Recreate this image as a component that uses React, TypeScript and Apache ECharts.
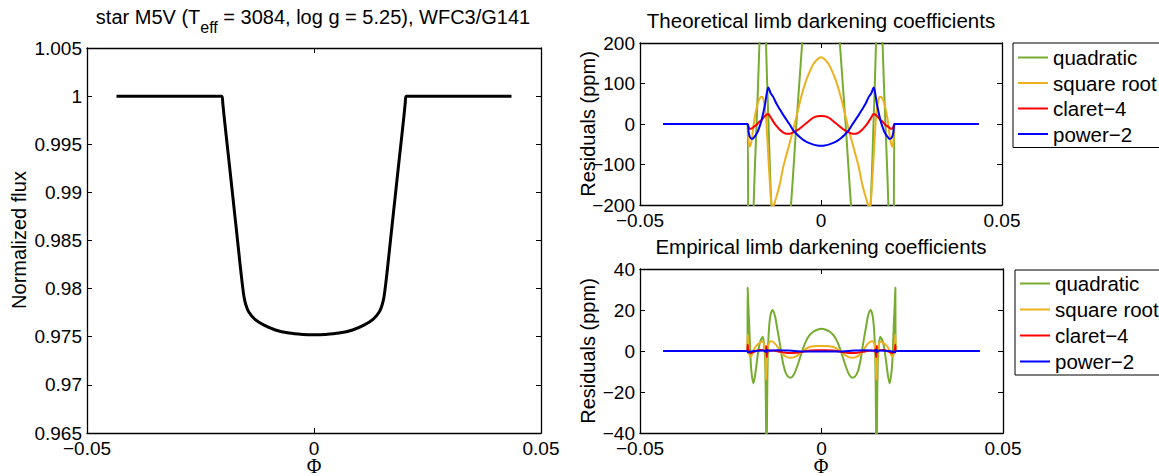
import React, { useEffect, useRef } from "react";
import * as echarts from "echarts";

// ---------- tick labels ----------
const phiTicks = [-0.05, 0, 0.05];
const phiTickLabels = ["\u22120.05", "0", "0.05"];
const fluxTicks = [0.965, 0.97, 0.975, 0.98, 0.985, 0.99, 0.995, 1, 1.005];
const fluxTickLabels = ["0.965", "0.97", "0.975", "0.98", "0.985", "0.99", "0.995", "1", "1.005"];
const thResTicks = [-200, -100, 0, 100, 200];
const thResTickLabels = ["\u2212200", "\u2212100", "0", "100", "200"];
const emResTicks = [-40, -20, 0, 20, 40];
const emResTickLabels = ["\u221240", "\u221220", "0", "20", "40"];

const seriesNames = ["quadratic", "square root", "claret\u22124", "power\u22122"];

// ---------- left panel: transit light curve ----------
const fluxPhi = [-0.0435, -0.0203, -0.0201, -0.0198, -0.0193, -0.0186, -0.0178, -0.017, -0.0163, -0.0158, -0.0154, -0.015, -0.0144, -0.013, -0.011, -0.0085, -0.0055, -0.0025, 0, 0.0025, 0.0055, 0.0085, 0.011, 0.013, 0.0144, 0.015, 0.0154, 0.0158, 0.0163, 0.017, 0.0178, 0.0186, 0.0193, 0.0198, 0.0201, 0.0203, 0.0435];
const fluxVal = [1, 1, 0.9993, 0.9979, 0.9957, 0.9927, 0.9892, 0.9857, 0.9826, 0.9805, 0.9791, 0.9783, 0.9776, 0.9768, 0.9762, 0.9757, 0.97538, 0.97524, 0.9752, 0.97524, 0.97538, 0.9757, 0.9762, 0.9768, 0.9776, 0.9783, 0.9791, 0.9805, 0.9826, 0.9857, 0.9892, 0.9927, 0.9957, 0.9979, 0.9993, 1, 1];

// ---------- theoretical residuals (ppm) ----------
const thQuadPhi = [-0.0436, -0.0203, -0.0201, -0.0198, -0.0194, -0.019, -0.0186, -0.0178, -0.017, -0.0166, -0.0161, -0.0156, -0.0152, -0.0145, -0.0137, -0.0125, -0.011, -0.0095, -0.0083, -0.0068, -0.0052, -0.003, 0, 0.003, 0.0052, 0.0068, 0.0083, 0.0095, 0.011, 0.0125, 0.0137, 0.0145, 0.0152, 0.0156, 0.0161, 0.0166, 0.017, 0.0178, 0.0186, 0.019, 0.0194, 0.0198, 0.0201, 0.0203, 0.0436];
const thQuadVal = [0, 0, -300, -600, -700, -500, -200, 0, 200, 420, 500, 400, 200, 0, -200, -320, -340, -300, -200, 0, 200, 480, 660, 480, 200, 0, -200, -300, -340, -320, -200, 0, 200, 400, 500, 420, 200, 0, -200, -500, -700, -600, -300, 0, 0];

const thSqrtPhi = [-0.0436, -0.0203, -0.02, -0.0197, -0.0194, -0.019, -0.0185, -0.0181, -0.0176, -0.0172, -0.0167, -0.0162, -0.0157, -0.0152, -0.0149, -0.0146, -0.0143, -0.014, -0.0137, -0.0134, -0.013, -0.0127, -0.012, -0.0113, -0.0104, -0.0095, -0.0086, -0.0077, -0.0068, -0.0058, -0.0049, -0.004, -0.003, -0.0021, -0.001, 0, 0.001, 0.0021, 0.003, 0.004, 0.0049, 0.0058, 0.0068, 0.0077, 0.0086, 0.0095, 0.0104, 0.0113, 0.012, 0.0127, 0.013, 0.0134, 0.0137, 0.014, 0.0143, 0.0146, 0.0149, 0.0152, 0.0157, 0.0162, 0.0167, 0.0172, 0.0176, 0.0181, 0.0185, 0.019, 0.0194, 0.0197, 0.02, 0.0203, 0.0436];
const thSqrtVal = [0, 0, -40, -56, -50, -31, 5, 26, 47, 59, 66, 67, 52, 18, -25, -72, -120, -163, -195, -203, -200, -191, -170, -145, -105, -75, -45, -15, 18, 55, 85, 110, 132, 148, 160, 165, 160, 148, 132, 110, 85, 55, 18, -15, -45, -75, -105, -145, -170, -191, -200, -203, -195, -163, -120, -72, -25, 18, 52, 67, 66, 59, 47, 26, 5, -31, -50, -56, -40, 0, 0];

const thClaretPhi = [-0.0436, -0.0203, -0.02, -0.0196, -0.019, -0.0184, -0.0178, -0.017, -0.0164, -0.0155, -0.01455, -0.014, -0.0136, -0.0129, -0.0122, -0.0113, -0.0104, -0.0095, -0.0086, -0.0075, -0.0063, -0.0052, -0.004, -0.003, -0.0021, -0.001, 0, 0.001, 0.0021, 0.003, 0.004, 0.0052, 0.0063, 0.0075, 0.0086, 0.0095, 0.0104, 0.0113, 0.0122, 0.0129, 0.0136, 0.014, 0.01455, 0.0155, 0.0164, 0.017, 0.0178, 0.0184, 0.019, 0.0196, 0.02, 0.0203, 0.0436];
const thClaretVal = [0, 0, -8, -12, -10, -6, -2.5, 6, 10, 20, 24.7, 18, 12, 2, -6, -15, -21, -24, -24, -20, -14, -6, 2.5, 10, 16, 19, 20, 19, 16, 10, 2.5, -6, -14, -20, -24, -24, -21, -15, -6, 2, 12, 18, 24.7, 20, 10, 6, -2.5, -6, -10, -12, -8, 0, 0];

const thPowerPhi = [-0.0436, -0.0203, -0.02, -0.0196, -0.019, -0.0184, -0.0178, -0.0173, -0.0164, -0.0155, -0.0149, -0.01455, -0.0139, -0.0132, -0.0123, -0.0113, -0.0104, -0.0095, -0.0086, -0.0077, -0.0068, -0.0058, -0.0048, -0.004, -0.003, -0.0021, -0.001, 0, 0.001, 0.0021, 0.003, 0.004, 0.0048, 0.0058, 0.0068, 0.0077, 0.0086, 0.0095, 0.0104, 0.0113, 0.0123, 0.0132, 0.0139, 0.01455, 0.0149, 0.0155, 0.0164, 0.0173, 0.0178, 0.0184, 0.019, 0.0196, 0.02, 0.0203, 0.0436];
const thPowerVal = [0, 0, -20, -33, -37, -32, -24, -15, 10, 47, 80, 90, 76, 67, 50, 35, 22, 10, -2, -15, -24, -33, -40, -44, -48, -51, -53, -53.5, -53, -51, -48, -44, -40, -33, -24, -15, -2, 10, 22, 35, 50, 67, 76, 90, 80, 47, 10, -15, -24, -32, -37, -33, -20, 0, 0];

// ---------- empirical residuals (ppm) ----------
const emQuadPhi = [-0.0436, -0.0204, -0.02035, -0.0202, -0.0199, -0.0196, -0.0193, -0.0188, -0.0184, -0.018, -0.0175, -0.0169, -0.0162, -0.0158, -0.0155, -0.0153, -0.01515, -0.015, -0.0148, -0.0145, -0.0141, -0.0135, -0.0128, -0.0122, -0.0115, -0.0108, -0.01, -0.0092, -0.0085, -0.0076, -0.0066, -0.0055, -0.0045, -0.0034, -0.0022, -0.001, 0, 0.001, 0.0022, 0.0034, 0.0045, 0.0055, 0.0066, 0.0076, 0.0085, 0.0092, 0.01, 0.0108, 0.0115, 0.0122, 0.0128, 0.0135, 0.0141, 0.0145, 0.0148, 0.015, 0.01515, 0.0153, 0.0155, 0.0158, 0.0162, 0.0169, 0.0175, 0.018, 0.0184, 0.0188, 0.0193, 0.0196, 0.0199, 0.0202, 0.02035, 0.0204, 0.0436];
const emQuadVal = [0, 0, 31, 24, 12, -2, -10, -15.8, -13, -8, -1, 4.5, 7, 3, -6, -30, -60, -30, -2, 10, 17, 20, 17, 11, 4, -4, -10, -12.5, -13, -11.5, -7, -1, 4, 7.5, 9.5, 10.5, 10.8, 10.5, 9.5, 7.5, 4, -1, -7, -11.5, -13, -12.5, -10, -4, 4, 11, 17, 20, 17, 10, -2, -30, -60, -30, -6, 3, 7, 4.5, -1, -8, -13, -15.8, -10, -2, 12, 24, 31, 0, 0];

const emSqrtPhi = [-0.0436, -0.0204, -0.02035, -0.0202, -0.0199, -0.0196, -0.0192, -0.0187, -0.018, -0.017, -0.0162, -0.0157, -0.0154, -0.01525, -0.0151, -0.0149, -0.0146, -0.014, -0.0134, -0.0125, -0.0115, -0.0105, -0.0095, -0.0085, -0.0075, -0.0065, -0.0055, -0.0045, -0.0035, -0.0022, -0.001, 0, 0.001, 0.0022, 0.0035, 0.0045, 0.0055, 0.0065, 0.0075, 0.0085, 0.0095, 0.0105, 0.0115, 0.0125, 0.0134, 0.014, 0.0146, 0.0149, 0.0151, 0.01525, 0.0154, 0.0157, 0.0162, 0.017, 0.018, 0.0187, 0.0192, 0.0196, 0.0199, 0.0202, 0.02035, 0.0204, 0.0436];
const emSqrtVal = [0, 0, 8, 4, -1.5, -2.8, -2, 0.5, 2.5, 4, 4.5, 2, -3, -14, -14, -1, 3, 4.8, 4.5, 3, 0.5, -1.8, -3, -3.3, -3, -2, -0.5, 0.8, 1.8, 2.3, 2.5, 2.5, 2.5, 2.3, 1.8, 0.8, -0.5, -2, -3, -3.3, -3, -1.8, 0.5, 3, 4.5, 4.8, 3, -1, -14, -14, -3, 2, 4.5, 4, 2.5, 0.5, -2, -2.8, -1.5, 4, 8, 0, 0];

const emClaretPhi = [-0.0436, -0.0204, -0.02035, -0.0202, -0.0199, -0.0194, -0.0185, -0.017, -0.016, -0.0154, -0.0152, -0.0151, -0.01495, -0.0145, -0.0135, -0.012, -0.01, -0.0085, -0.007, -0.005, -0.003, -0.001, 0, 0.001, 0.003, 0.005, 0.007, 0.0085, 0.01, 0.012, 0.0135, 0.0145, 0.01495, 0.0151, 0.0152, 0.0154, 0.016, 0.017, 0.0185, 0.0194, 0.0199, 0.0202, 0.02035, 0.0204, 0.0436];
const emClaretVal = [0, 0, 3, 1, -0.6, -1, -0.3, 0.5, 0.3, -0.2, 2.5, -3, -1, 0.3, 0.2, -0.2, -0.8, -1, -0.8, -0.3, 0.2, 0.4, 0.4, 0.4, 0.2, -0.3, -0.8, -1, -0.8, -0.2, 0.2, 0.3, -1, -3, 2.5, -0.2, 0.3, 0.5, -0.3, -1, -0.6, 1, 3, 0, 0];

const emPowerPhi = [-0.0436, -0.0204, -0.0203, -0.0198, -0.0185, -0.016, -0.0152, -0.015, -0.0145, -0.012, -0.009, -0.005, 0, 0.005, 0.009, 0.012, 0.0145, 0.015, 0.0152, 0.016, 0.0185, 0.0198, 0.0203, 0.0204, 0.0436];
const emPowerVal = [0, 0, -0.7, -0.4, 0, 0.2, -0.5, 0.6, 0.1, 0.4, 0.2, -0.2, -0.3, -0.2, 0.2, 0.4, 0.1, 0.6, -0.5, 0.2, 0, -0.4, -0.7, 0, 0];

// ---------- styling ----------
const colors = ["#77AC30", "#EDB120", "#FF0000", "#0000FF"];
const SANS = "'Liberation Sans', Arial, Helvetica, sans-serif";
const SERIF = "'Liberation Serif', 'DejaVu Serif', serif";

function pairs(xs: number[], ys: number[]) {
  return xs.map((x, i) => [x, ys[i]]);
}
function labelFrom(ticks: number[], labels: string[]) {
  return (v: number) => {
    for (let i = 0; i < ticks.length; i++) if (Math.abs(v - ticks[i]) < 1e-9) return labels[i];
    return "";
  };
}

const grids = [
  { left: 87, top: 48, width: 454, height: 385 },
  { left: 640, top: 43, width: 362, height: 162 },
  { left: 640, top: 269, width: 363, height: 164 },
];

const axisLine = { show: true, onZero: false, lineStyle: { color: "#000", width: 1.3 } };
const axisTick = { show: true, inside: true, length: 5, lineStyle: { color: "#000", width: 1 } };

function xAxisFor(gi: number, mirror: boolean) {
  return {
    type: "value",
    gridIndex: gi,
    position: mirror ? "top" : "bottom",
    min: -0.05,
    max: 0.05,
    interval: 0.05,
    splitLine: { show: false },
    axisLine,
    axisTick,
    axisLabel: {
      show: !mirror,
      formatter: labelFrom(phiTicks, phiTickLabels),
      fontSize: 19,
      color: "#000",
      fontFamily: SANS,
      margin: 6,
      showMinLabel: true,
      showMaxLabel: true,
    },
  };
}

function yAxisFor(gi: number, mirror: boolean) {
  const cfg =
    gi === 0
      ? { min: 0.965, max: 1.005, interval: 0.005, f: labelFrom(fluxTicks, fluxTickLabels) }
      : gi === 1
      ? { min: -200, max: 200, interval: 100, f: labelFrom(thResTicks, thResTickLabels) }
      : { min: -40, max: 40, interval: 20, f: labelFrom(emResTicks, emResTickLabels) };
  return {
    type: "value",
    gridIndex: gi,
    position: mirror ? "right" : "left",
    min: cfg.min,
    max: cfg.max,
    interval: cfg.interval,
    splitLine: { show: false },
    axisLine,
    axisTick,
    axisLabel: {
      show: !mirror,
      formatter: cfg.f,
      fontSize: 19,
      color: "#000",
      fontFamily: SANS,
      margin: 5,
      showMinLabel: true,
      showMaxLabel: true,
    },
  };
}

function resSeries(gi: number, sets: [number[], number[]][]) {
  return sets.map(([xs, ys], i) => ({
    type: "line",
    name: seriesNames[i],
    xAxisIndex: gi,
    yAxisIndex: gi,
    data: pairs(xs, ys),
    showSymbol: false,
    symbol: "none",
    smooth: 0.25,
    clip: true,
    lineStyle: { color: colors[i], width: 2 },
    itemStyle: { color: colors[i] },
    z: 2 + i,
  }));
}

function legendAt(left: number, top: number, gap: number, padTop: number) {
  return {
    data: seriesNames,
    orient: "vertical",
    left,
    top,
    itemWidth: 30,
    itemHeight: 2,
    icon: "rect",
    itemGap: gap,
    padding: [padTop, 3, 3, 5],
    borderColor: "#000",
    borderWidth: 1,
    backgroundColor: "#fff",
    selectedMode: false,
    textStyle: { fontSize: 20.5, lineHeight: 20, color: "#000", fontFamily: SANS },
  };
}

const option = {
  animation: false,
  backgroundColor: "#fff",
  grid: grids.map((g) => ({ ...g, containLabel: false })),
  xAxis: [0, 1, 2].map((i) => xAxisFor(i, false)).concat([0, 1, 2].map((i) => xAxisFor(i, true))),
  yAxis: [0, 1, 2].map((i) => yAxisFor(i, false)).concat([0, 1, 2].map((i) => yAxisFor(i, true))),
  legend: [legendAt(1013, 43, 4.5, 4), legendAt(1015, 270, 5, 3)],
  series: [
    {
      type: "line",
      name: "flux",
      xAxisIndex: 0,
      yAxisIndex: 0,
      data: pairs(fluxPhi, fluxVal),
      showSymbol: false,
      symbol: "none",
      smooth: 0.2,
      lineStyle: { color: "#000", width: 3 },
      itemStyle: { color: "#000" },
    },
    ...resSeries(1, [
      [thQuadPhi, thQuadVal],
      [thSqrtPhi, thSqrtVal],
      [thClaretPhi, thClaretVal],
      [thPowerPhi, thPowerVal],
    ]),
    ...resSeries(2, [
      [emQuadPhi, emQuadVal],
      [emSqrtPhi, emSqrtVal],
      [emClaretPhi, emClaretVal],
      [emPowerPhi, emPowerVal],
    ]),
  ],
  graphic: [
    {
      type: "text",
      x: 313,
      y: 6.5,
      style: {
        text: "{a|star M5V (T}{s|eff}{a| = 3084, log g = 5.25), WFC3/G141}",
        align: "center",
        verticalAlign: "top",
        rich: {
          a: { fontSize: 20, lineHeight: 20, fontFamily: SANS, fill: "#000", verticalAlign: "top" },
          s: { fontSize: 16, lineHeight: 16, fontFamily: SANS, fill: "#000", verticalAlign: "top", padding: [13, 0, 0, 0] },
        },
      },
    },
    {
      type: "text",
      x: 821,
      y: 9.5,
      style: { text: "Theoretical limb darkening coefficients", fontSize: 20.5, fontFamily: SANS, fill: "#000", align: "center", verticalAlign: "top" },
    },
    {
      type: "text",
      x: 821,
      y: 235.5,
      style: { text: "Empirical limb darkening coefficients", fontSize: 20.5, fontFamily: SANS, fill: "#000", align: "center", verticalAlign: "top" },
    },
    {
      type: "text",
      x: 19,
      y: 240,
      rotation: Math.PI / 2,
      style: { text: "Normalized flux", fontSize: 20, fontFamily: SANS, fill: "#000", align: "center", verticalAlign: "middle" },
    },
    {
      type: "text",
      x: 588,
      y: 124,
      rotation: Math.PI / 2,
      style: { text: "Residuals (ppm)", fontSize: 20, fontFamily: SANS, fill: "#000", align: "center", verticalAlign: "middle" },
    },
    {
      type: "text",
      x: 588,
      y: 351,
      rotation: Math.PI / 2,
      style: { text: "Residuals (ppm)", fontSize: 20, fontFamily: SANS, fill: "#000", align: "center", verticalAlign: "middle" },
    },
    {
      type: "text",
      x: 314,
      y: 466,
      style: { text: "\u03A6", fontSize: 20, fontFamily: SERIF, fill: "#000", align: "center", verticalAlign: "middle" },
    },
    {
      type: "text",
      x: 821,
      y: 466,
      style: { text: "\u03A6", fontSize: 20, fontFamily: SERIF, fill: "#000", align: "center", verticalAlign: "middle" },
    },
  ],
};

export default function App() {
  const ref = useRef<HTMLDivElement>(null);
  useEffect(() => {
    const chart = echarts.init(ref.current as HTMLDivElement, null, { renderer: "svg" });
    chart.setOption(option as any);
    return () => chart.dispose();
  }, []);
  return (
    <div
      ref={ref}
      style={{ position: "absolute", left: 0, top: 0, width: 1159, height: 476, background: "#fff" }}
    />
  );
}
